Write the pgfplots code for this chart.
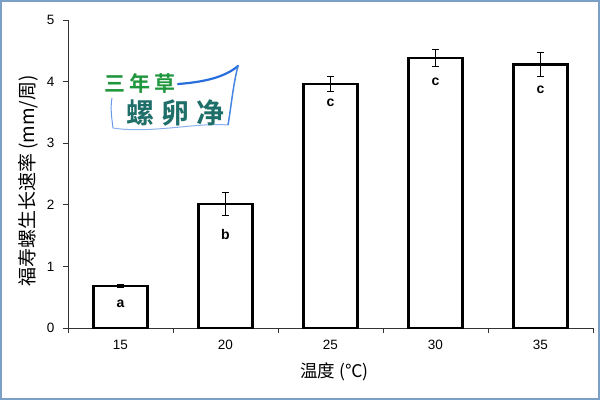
\documentclass[border=0pt]{standalone}
\usepackage{pgfplots}
\pgfplotsset{compat=1.18}
\usepackage{fontspec}
\setmainfont{Liberation Sans}
\newfontfamily\cjk{Noto Sans CJK SC}
\newfontfamily\cjkb{Noto Sans CJK SC Bold}
\definecolor{frameblue}{RGB}{122,160,200}
\definecolor{logogreen}{RGB}{30,150,60}
\definecolor{logoteal}{RGB}{30,110,105}
\definecolor{logoblue}{RGB}{40,110,220}
\begin{document}
\begin{tikzpicture}[x=1pt,y=1pt]
\draw[frameblue,line width=2pt] (1,1) rectangle (599,399);
\begin{axis}[
  at={(68pt,72pt)}, anchor=south west,
  scale only axis, width=525pt, height=308pt,
  xmin=-0.5, xmax=4.5, ymin=0, ymax=5,
  axis lines=left, axis line style={-, line width=0.8pt, black!80},
  tick align=outside, tick style={black!80, line width=0.8pt},
  major tick length=5pt,
  xtick={-0.5,0.5,1.5,2.5,3.5,4.5},
  x tick label as interval,
  xticklabels={15,20,25,30,35},
  ytick={0,1,2,3,4,5},
  /pgf/number format/assume math mode=true,
  ticklabel style={font=\fontsize{13.5}{15}\selectfont},
  xticklabel style={yshift=-4pt},
  yticklabel style={xshift=-5pt},
  xlabel={\cjk 温度 (℃)},
  ylabel={\cjk 福寿螺生长速率 (mm/周)},
  xlabel style={font=\fontsize{17.5}{20}\selectfont, yshift=-6pt, xshift=4pt},
  ylabel style={font=\fontsize{19}{21}\selectfont, yshift=2pt, xshift=-7pt},
  clip=false,
]
\addplot[ybar, bar width=54pt, draw=black, fill=white, line width=2.4pt,
  error bars/.cd, y dir=both, y explicit,
  error bar style={black, line width=1pt}, error mark options={black, line width=1pt, mark size=3.5pt, rotate=90}]
coordinates {
(0,0.685) +- (0,0.02)
(1,2.01) +- (0,0.19)
(2,3.96) +- (0,0.12)
(3,4.38) +- (0,0.14)
(4,4.275) +- (0,0.20)
};
\begin{scope}[every node/.style={font=\bfseries\fontsize{14}{16}\selectfont}]
\node at (axis cs:0,0.39) {a};
\node at (axis cs:1,1.51) {b};
\node at (axis cs:2,3.66) {c};
\node at (axis cs:3,3.99) {c};
\node at (axis cs:4,3.86) {c};
\end{scope}
\end{axis}
% logo
\draw[logoblue, line width=2.2pt, line cap=round]
  (178,316) .. controls (205,318) and (225,323) .. (238,334);
\draw[logoblue!70, line width=1pt]
  (112,302) .. controls (110,292) and (112,280) .. (113,272);
\draw[logoblue!55, line width=1pt]
  (113,272) .. controls (150,266) and (200,278) .. (228,275);
\draw[logoblue!85, line width=1.5pt]
  (238,334) .. controls (233,315) and (231,292) .. (228,275);
\node[logogreen, font=\cjkb\fontsize{21}{23}\selectfont, anchor=center] at (140,317) {三\hspace{4pt}年\hspace{4pt}草};
\node[logoteal, font=\cjkb\fontsize{28}{30}\selectfont, anchor=center] at (175,287.5) {螺\hspace{7pt}卵\hspace{7pt}净};
\end{tikzpicture}
\end{document}
